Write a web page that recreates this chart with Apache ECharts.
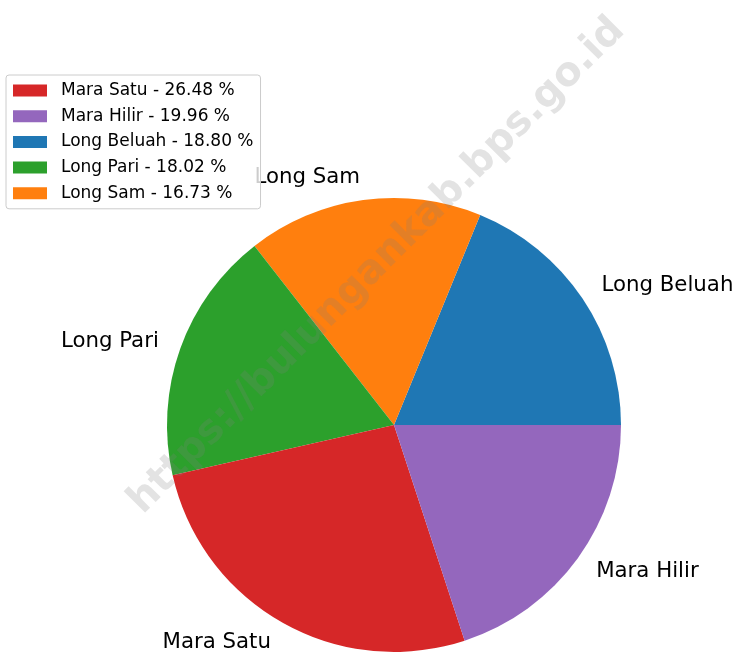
<!DOCTYPE html>
<html>
<head>
<meta charset="utf-8">
<script src="https://cdn.jsdelivr.net/npm/echarts@6/dist/echarts.min.js"></script>
<style>
html,body{margin:0;padding:0;background:#fff;}
#chart{width:737px;height:654px;}
</style>
</head>
<body>
<div id="chart"></div>
<script>
// Slice order as drawn (counterclockwise from east)
const categories = ['Long Beluah', 'Long Sam', 'Long Pari', 'Mara Satu', 'Mara Hilir'];
const values = [18.80, 16.73, 18.02, 26.48, 19.96];
const colors = ['#1f77b4', '#ff7f0e', '#2ca02c', '#d62728', '#9467bd'];
// Legend order (descending)
const legendOrder = ['Mara Satu', 'Mara Hilir', 'Long Beluah', 'Long Pari', 'Long Sam'];
const watermark = 'https://bulungankab.bps.go.id';

const FONT = 'DejaVu Sans';
const cx = 394, cy = 425, R = 227;

const valueMap = {};
categories.forEach((c, i) => { valueMap[c] = values[i]; });

const chart = echarts.init(document.getElementById('chart'), null, {renderer: 'canvas'});
chart.setOption({
  animation: false,
  backgroundColor: '#ffffff',
  legend: {
    orient: 'vertical',
    left: 6,
    top: 75,
    padding: [7, 7, 7, 7],
    itemWidth: 34,
    itemHeight: 12,
    itemGap: 8.7,
    icon: 'rect',
    data: legendOrder,
    backgroundColor: 'rgba(255,255,255,0.8)',
    borderColor: '#cccccc',
    borderWidth: 1,
    borderRadius: 3,
    textStyle: { fontFamily: FONT, fontSize: 17, color: '#000', lineHeight: 17, padding: [0, 0, 0, 9] },
    formatter: function (name) { return name + ' - ' + valueMap[name].toFixed(2) + ' %'; },
    selectedMode: false
  },
  graphic: [{
    type: 'text',
    x: 377,
    y: 266,
    rotation: Math.PI / 4,
    z: 100,
    silent: true,
    style: {
      text: watermark,
      x: 0, y: 0,
      align: 'center',
      verticalAlign: 'middle',
      font: 'bold 40px "DejaVu Sans"',
      fill: 'rgba(128,128,128,0.22)'
    }
  }],
  series: [{
    type: 'pie',
    center: [cx, cy],
    radius: [0, R],
    startAngle: 0,
    clockwise: false,
    avoidLabelOverlap: false,
    minShowLabelAngle: 0,
    itemStyle: { borderWidth: 0 },
    emphasis: { disabled: true },
    label: {
      show: true,
      position: 'outside',
      formatter: '{b}',
      fontFamily: FONT,
      fontSize: 21.3,
      color: '#000',
      padding: [3, 0, 0, 0],
      distanceToLabelLine: 0
    },
    labelLine: { show: false, length: R * 0.1, length2: 0 },
    data: categories.map((c, i) => ({ name: c, value: values[i], itemStyle: { color: colors[i] } }))
  }]
});
</script>
</body>
</html>
